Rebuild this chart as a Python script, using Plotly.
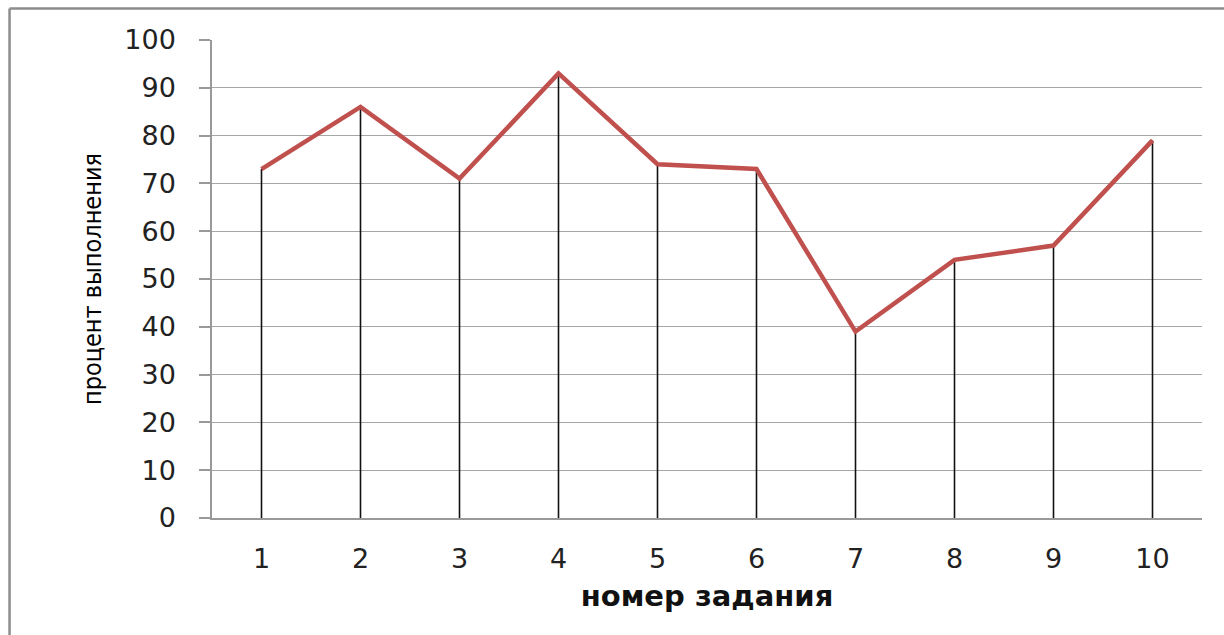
import plotly.graph_objects as go

# Task numbers and completion percentage per task
tasks = [1, 2, 3, 4, 5, 6, 7, 8, 9, 10]
percent = [73, 86, 71, 93, 74, 73, 39, 54, 57, 79]
y_ticks = [0, 10, 20, 30, 40, 50, 60, 70, 80, 90, 100]

fig = go.Figure()

# Thin black drop lines from each point down to zero
fig.add_trace(go.Scatter(
    x=tasks, y=percent, mode="markers",
    marker=dict(size=1, color="rgba(0,0,0,0)"),
    error_y=dict(type="data", symmetric=False,
                 array=[0] * len(percent), arrayminus=percent,
                 color="#111111", thickness=1.6, width=0),
    hoverinfo="skip", showlegend=False,
))

# Main completion line
fig.add_trace(go.Scatter(
    x=tasks, y=percent, mode="lines",
    line=dict(color="#C0504D", width=4.5),
    showlegend=False,
))

fig.update_layout(
    width=1224, height=635,
    margin=dict(l=212, r=22, t=40, b=117),
    paper_bgcolor="white", plot_bgcolor="white",
    xaxis=dict(
        range=[0.5, 10.5], tickvals=tasks, ticktext=[str(t) for t in tasks],
        showgrid=False, showline=True, linecolor="#999999", linewidth=1.5,
        ticks="", ticklabelstandoff=16,
        tickfont=dict(family="DejaVu Sans, sans-serif", size=27, color="#222222"),
        title=dict(text="<b>номер задания</b>", standoff=13,
                   font=dict(family="DejaVu Sans, sans-serif", size=29, color="#111111")),
        zeroline=False,
    ),
    yaxis=dict(
        range=[0, 100], tickvals=y_ticks,
        showgrid=True, gridcolor="#a6a6a6", gridwidth=1.2,
        showline=True, linecolor="#999999", linewidth=1.5,
        ticks="outside", ticklen=11, tickcolor="#999999", tickwidth=1.5,
        ticklabelstandoff=18,
        tickfont=dict(family="DejaVu Sans, sans-serif", size=27, color="#222222"),
        title=dict(text="процент выполнения", standoff=16,
                   font=dict(family="DejaVu Sans Condensed, Liberation Sans Narrow, sans-serif",
                             size=25, color="#000000")),
        zeroline=False,
    ),
    shapes=[
        # outer chart frame (left and top edges)
        dict(type="line", xref="paper", yref="paper", x0=-0.2045, x1=1.1, y0=1.066, y1=1.066,
             line=dict(color="#8c8c8c", width=2.5)),
        dict(type="line", xref="paper", yref="paper", x0=-0.2045, x1=-0.2045, y0=-0.3, y1=1.066,
             line=dict(color="#8c8c8c", width=2.5)),
    ],
)

fig.write_html("out.html")
